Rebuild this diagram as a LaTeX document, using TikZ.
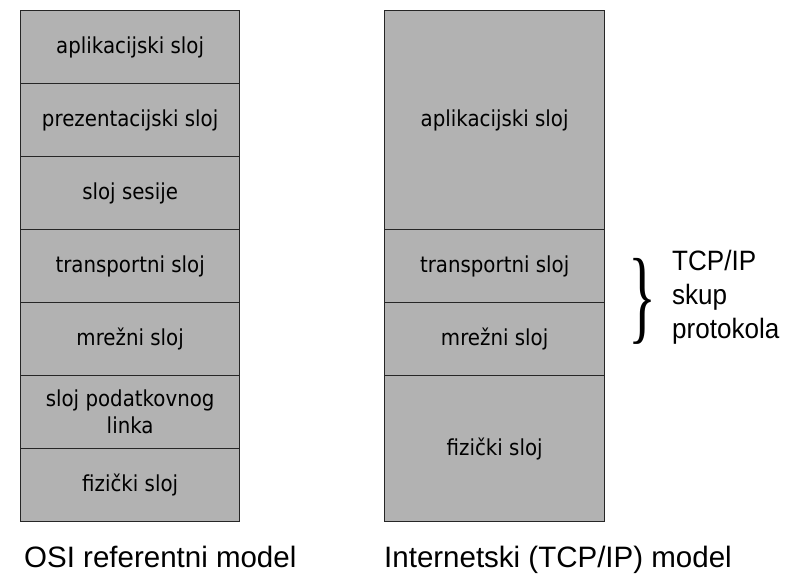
\documentclass[tikz,border=0pt]{standalone}
\usepackage{fontspec}
\setmainfont{DejaVu Sans}[FakeStretch=0.9]
\newfontfamily\labelfont{Liberation Sans}
\newfontfamily\suitefont{Liberation Sans}[FakeStretch=0.93]
\newfontfamily\bracefont{Liberation Serif}

\tikzset{
  layer/.style={draw=black!85, fill=black!30, line width=1.3pt, rectangle,
    inner sep=0pt, anchor=north west, align=center,
    font=\fontsize{22}{27}\selectfont},
  caption/.style={inner sep=0pt, anchor=base west,
    font=\labelfont\fontsize{29.5}{34}\selectfont},
  suite/.style={inner sep=0pt, anchor=north west, align=left,
    font=\suitefont\fontsize{28}{34}\selectfont}
}

\begin{document}
\begin{tikzpicture}[x=1pt, y=-1pt]
  \useasboundingbox (0,0) rectangle (785,576);

  % OSI reference model: seven equal layers
  \node[layer, minimum width=219pt, minimum height=73pt] (osi1) at (20,10)  {aplikacijski sloj};
  \node[layer, minimum width=219pt, minimum height=73pt] (osi2) at (20,83)  {prezentacijski sloj};
  \node[layer, minimum width=219pt, minimum height=73pt] (osi3) at (20,156) {sloj sesije};
  \node[layer, minimum width=219pt, minimum height=73pt] (osi4) at (20,229) {transportni sloj};
  \node[layer, minimum width=219pt, minimum height=73pt] (osi5) at (20,302) {mrežni sloj};
  \node[layer, minimum width=219pt, minimum height=73pt] (osi6) at (20,375) {sloj podatkovnog\\linka};
  \node[layer, minimum width=219pt, minimum height=73pt] (osi7) at (20,448) {fizički sloj};

  % Internet (TCP/IP) model: four layers
  \node[layer, minimum width=220pt, minimum height=219pt] (tcp1) at (384,10)  {aplikacijski sloj};
  \node[layer, minimum width=220pt, minimum height=73pt]  (tcp2) at (384,229) {transportni sloj};
  \node[layer, minimum width=220pt, minimum height=73pt]  (tcp3) at (384,302) {mrežni sloj};
  \node[layer, minimum width=220pt, minimum height=146pt] (tcp4) at (384,375) {fizički sloj};

  % brace grouping the transport and network layers
  \node[inner sep=0pt] (brace) at (642,301)
    {\resizebox*{28pt}{86pt}{\bracefont\}}};
  \node[suite] (suite) at (672,250) {TCP/IP\\skup\\protokola};

  % captions under the stacks
  \node[caption] (osicap) at (24,567) {OSI referentni model};
  \node[caption] (tcpcap) at (384,567) {Internetski (TCP/IP) model};
\end{tikzpicture}
\end{document}
